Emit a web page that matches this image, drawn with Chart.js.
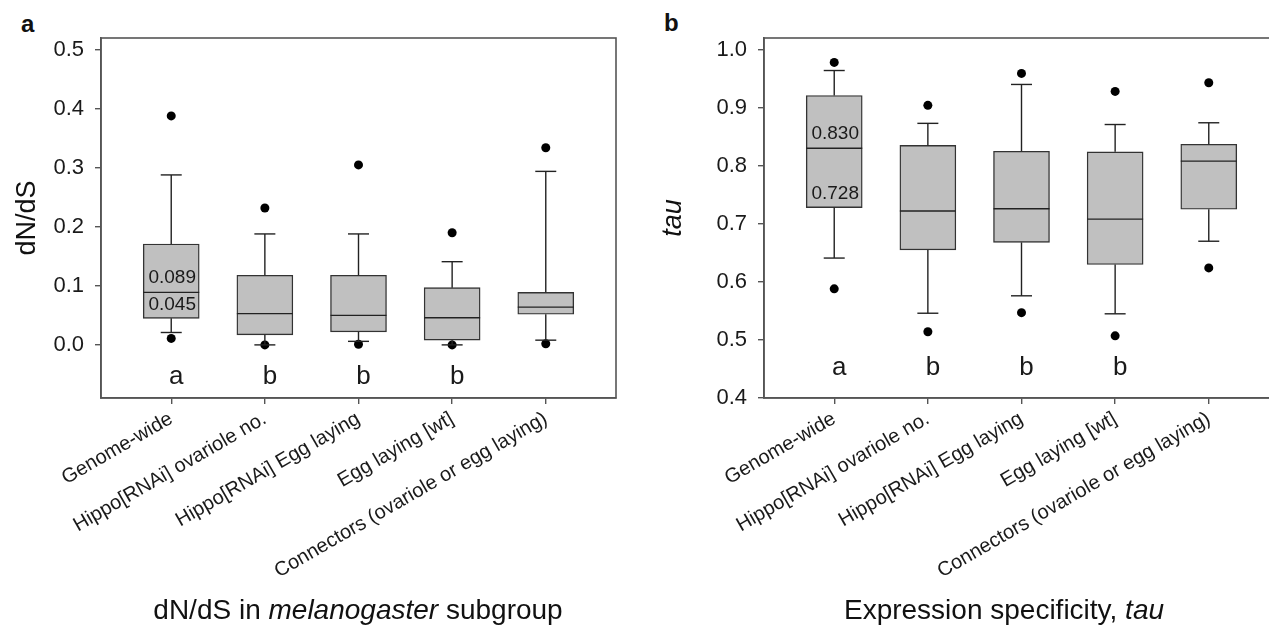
<!DOCTYPE html>
<html>
<head>
<meta charset="utf-8">
<script src="https://cdn.jsdelivr.net/npm/chart.js@4"></script>
<style>
  html, body { margin: 0; padding: 0; background: #fff; overflow: hidden; }
  body { width: 1269px; height: 626px; position: relative; font-family: "Liberation Sans", Arial, sans-serif; color: #111; }
  canvas { position: absolute; top: 0; }
  .tag { position: absolute; font-weight: bold; font-size: 24px; line-height: 28px; }
  .xtitle { position: absolute; top: 594px; font-size: 28px; line-height: 32px; white-space: nowrap; transform: translateX(-50%); }
</style>
</head>
<body>
<div class="tag" style="left:21px; top:10px">a</div>
<div class="tag" style="left:664px; top:9px">b</div>
<canvas id="chartA" style="left:0" width="640" height="626"></canvas>
<canvas id="chartB" style="left:640px" width="660" height="626"></canvas>
<div class="xtitle" style="left:358px">dN/dS in <i>melanogaster</i> subgroup</div>
<div class="xtitle" style="left:1004px">Expression specificity, <i>tau</i></div>

<script>
// categories (same for both panels)
const categories = ['Genome-wide', 'Hippo[RNAi] ovariole no.', 'Hippo[RNAi] Egg laying', 'Egg laying [wt]', 'Connectors (ovariole or egg laying)'];

// panel a : dN/dS
const q1A = [0.045, 0.017, 0.022, 0.008, 0.052];
const medA = [0.089, 0.053, 0.050, 0.046, 0.064];
const q3A = [0.171, 0.118, 0.118, 0.097, 0.089];
const whiskLoA = [0.021, 0.000, 0.006, 0.000, 0.008];
const whiskHiA = [0.288, 0.188, 0.188, 0.141, 0.294];
const outLoA = [0.011, 0.000, 0.001, 0.000, 0.002];
const outHiA = [0.388, 0.232, 0.305, 0.190, 0.334];
const groupsA = ['a', 'b', 'b', 'b', ''];
const ticksA = [0.0, 0.1, 0.2, 0.3, 0.4, 0.5];

// panel b : tau
const q1B = [0.728, 0.655, 0.668, 0.630, 0.725];
const medB = [0.830, 0.722, 0.726, 0.708, 0.808];
const q3B = [0.921, 0.835, 0.825, 0.824, 0.837];
const whiskLoB = [0.641, 0.546, 0.576, 0.545, 0.670];
const whiskHiB = [0.964, 0.873, 0.940, 0.871, 0.874];
const outLoB = [0.588, 0.514, 0.547, 0.507, 0.624];
const outHiB = [0.978, 0.904, 0.959, 0.928, 0.943];
const groupsB = ['a', 'b', 'b', 'b', ''];
const ticksB = [0.4, 0.5, 0.6, 0.7, 0.8, 0.9, 1.0];

Chart.defaults.font.family = "'Liberation Sans', Arial, sans-serif";
Chart.defaults.color = '#1a1a1a';

// whiskers, medians, value labels, group letters and the frame
const boxExtras = {
  id: 'boxExtras',
  afterDatasetsDraw(chart, args, o) {
    const { ctx, chartArea: a, scales: { x, y } } = chart;
    const half = 28, cap = 10.5;
    const line = (x1, y1, x2, y2) => {
      ctx.beginPath();
      ctx.moveTo(x1, y1);
      ctx.lineTo(x2, y2);
      ctx.stroke();
    };
    ctx.save();
    ctx.strokeStyle = '#222';
    ctx.lineWidth = 1.4;
    o.med.forEach((m, i) => {
      const cx = x.getPixelForValue(i);
      const yHi = y.getPixelForValue(o.hi[i]);
      const yLo = y.getPixelForValue(o.lo[i]);
      line(cx, y.getPixelForValue(o.q3[i]), cx, yHi);
      line(cx - cap, yHi, cx + cap, yHi);
      line(cx, y.getPixelForValue(o.q1[i]), cx, yLo);
      line(cx - cap, yLo, cx + cap, yLo);
      const ym = y.getPixelForValue(m);
      line(cx - half, ym, cx + half, ym);
    });

    // numbers written in the first box
    ctx.fillStyle = '#1a1a1a';
    ctx.textAlign = 'center';
    ctx.textBaseline = 'middle';
    ctx.font = "19px 'Liberation Sans', Arial, sans-serif";
    const c0 = x.getPixelForValue(0);
    ctx.fillText(o.med[0].toFixed(3), c0 + 1, y.getPixelForValue(o.med[0]) - 15);
    ctx.fillText(o.q1[0].toFixed(3), c0 + 1, y.getPixelForValue(o.q1[0]) - 14);

    // group letters
    ctx.font = "26px 'Liberation Sans', Arial, sans-serif";
    o.groups.forEach((g, i) => {
      ctx.fillText(g, x.getPixelForValue(i) + 5, y.getPixelForValue(o.letterY));
    });

    ctx.strokeStyle = '#555';
    ctx.lineWidth = 1.6;
    ctx.strokeRect(a.left, a.top, a.right - a.left, a.bottom - a.top);
    ctx.restore();
  }
};

const makeChart = (id, p) => new Chart(document.getElementById(id), {
  type: 'bar',
  data: {
    datasets: [
      {
        type: 'scatter',
        data: p.outLo.map((v, i) => ({ x: i, y: v })).concat(p.outHi.map((v, i) => ({ x: i, y: v }))),
        pointRadius: 4.5,
        pointBackgroundColor: '#000',
        pointBorderWidth: 0,
        order: 0
      },
      {
        type: 'bar',
        data: p.q1.map((v, i) => ({ x: i, y: [v, p.q3[i]] })),
        backgroundColor: '#c0c0c0',
        borderColor: '#333',
        borderWidth: 1.4,
        borderSkipped: false,
        barThickness: 56,
        order: 1
      }
    ]
  },
  options: {
    responsive: false,
    animation: false,
    events: [],
    layout: { padding: { left: 0, top: 38, right: p.padRight, bottom: 0 } },
    plugins: {
      legend: { display: false },
      tooltip: { enabled: false },
      boxExtras: {
        q1: p.q1, med: p.med, q3: p.q3, lo: p.whiskLo, hi: p.whiskHi,
        groups: p.groups, letterY: p.letterY
      }
    },
    scales: {
      x: {
        type: 'linear',
        offset: false,
        min: -0.75,
        max: 4.75,
        afterBuildTicks: s => { s.ticks = categories.map((c, i) => ({ value: i })); },
        afterFit: s => { s.height = 228; },
        ticks: {
          autoSkip: false,
          minRotation: 30,
          maxRotation: 30,
          padding: 3,
          font: { size: 20 },
          callback: v => categories[v]
        },
        grid: { offset: false, drawOnChartArea: false, drawTicks: true, tickLength: 6, color: '#555', lineWidth: 1.4 },
        border: { display: true, color: '#555', width: 1.6 }
      },
      y: {
        min: p.yMin,
        max: p.yMax,
        afterBuildTicks: s => { s.ticks = p.ticks.map(v => ({ value: v })); },
        afterFit: s => { s.width = p.yWidth; },
        ticks: { padding: 11, font: { size: 22 }, callback: v => v.toFixed(1) },
        grid: { drawOnChartArea: false, drawTicks: true, tickLength: 6, color: '#555', lineWidth: 1.4 },
        border: { display: true, color: '#555', width: 1.6 },
        title: {
          display: true,
          text: p.yTitle,
          font: { size: 27, style: p.yStyle },
          color: '#111',
          padding: { top: p.titlePad, bottom: 0 }
        }
      }
    }
  },
  plugins: [boxExtras]
});

makeChart('chartA', {
  q1: q1A, med: medA, q3: q3A, whiskLo: whiskLoA, whiskHi: whiskHiA, outLo: outLoA, outHi: outHiA,
  groups: groupsA, letterY: -0.054, ticks: ticksA, yMin: -0.09, yMax: 0.52,
  yTitle: 'dN/dS', yStyle: 'normal', titlePad: 11, yWidth: 101, padRight: 24
});

makeChart('chartB', {
  q1: q1B, med: medB, q3: q3B, whiskLo: whiskLoB, whiskHi: whiskHiB, outLo: outLoB, outHi: outHiB,
  groups: groupsB, letterY: 0.452, ticks: ticksB, yMin: 0.4, yMax: 1.02,
  yTitle: 'tau', yStyle: 'italic', titlePad: 17, yWidth: 124, padRight: 21
});
</script>
</body>
</html>
